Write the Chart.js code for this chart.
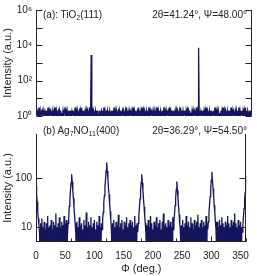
<!DOCTYPE html>
<html>
<head>
<meta charset="utf-8">
<script src="https://cdn.jsdelivr.net/npm/chart.js@4"></script>
<style>
  html, body { margin: 0; padding: 0; background: #fff; }
  #wrap { position: relative; width: 257px; height: 276px; overflow: hidden; font-family: "Liberation Sans", Arial, sans-serif; }
  canvas { position: absolute; left: 0; }
  #cTop { top: 0; }
  #cBot { top: 124px; }
  .note { position: absolute; font-size: 10px; line-height: 12px; color: #222; white-space: nowrap; }
  .note sub { font-size: 7px; vertical-align: -2px; line-height: 0; }
</style>
</head>
<body>
<div id="wrap">
  <canvas id="cTop" width="257" height="126"></canvas>
  <canvas id="cBot" width="257" height="152"></canvas>
  <div class="note" style="left:43px; top:9px;">(a): TiO<sub>2</sub>(111)</div>
  <div class="note" style="right:10px; top:9px;">2θ=41.24°, Ψ=48.00°</div>
  <div class="note" style="left:43px; top:125px;">(b) Ag<sub>7</sub>NO<sub>11</sub>(400)</div>
  <div class="note" style="right:10px; top:125px;">2θ=36.29°, Ψ=54.50°</div>
</div>
<script>
// measurement grid, phi in degrees, 1 deg step
const phiStart = 0;
const phiEnd = 360;
const phi = [];
for (let a = phiStart; a <= phiEnd; a++) phi.push(a);

// (a) TiO2(111) intensities (counts)
const tio2 = [
  2,1,2,1.5,1,3,1,2,1,1.5,2,1,2,1,1,2,1.5,1,2,1,
  3,1,2,1,2,1.5,1,2,1,1,2,1,3,1,2,1,1.5,2,1,2,
  1,2,1,1.5,1,2,1,2,3,1,2,1,2,1,1.5,1,2,1,2,1,
  2,1.5,1,2,1,3,1,2,1,2,1,1.5,2,1,2,1,3,1,2,1,
  1.5,1,2,1,2,1,2,1.5,1,3,1,2,2800,1,2,1,2,1.5,1,2,
  1,2,1,2,1,1,2,1,1.5,2,1,2,1,3,1,2,1,1.5,1,2,
  1,2,1,2,1.5,1,2,1,2,1,3,1,2,1,2,1,1.5,2,1,2,
  1,2,1,1,2,1,2,1.5,1,2,1,3,1,2,1,2,1,2,1.5,1,
  2,1,3,1,2,1,2,1,1.5,2,1,3,1,2,1,2,1,3,1,2,
  1,2,1.5,1,2,1,2,1,3,1,2,1,2,1.5,1,2,1,2,1,1,
  2,1,3,1,2,1,2,1,2,1.5,1,2,1,3,1,2,1,2,1,1.5,
  2,1,2,1,3,1,2,1,2,1,1.5,1,2,1,2,1,2,1.5,1,2,
  1,3,1,2,1,2,1,1.5,2,1,2,1,2,1,3,1,2,1,1.5,1,
  2,1,2,1,2,1.5,1,3,1,2,1,7200,1,2,1,2,1.5,1,2,1,
  2,1,2,1,3,1,2,1.5,1,2,1,2,1,2,1,1.5,2,1,3,1,
  2,1,2,1,2,1,1.5,1,2,1,2,1,3,1,2,1,2,1.5,1,2,
  1,2,1,2,1,3,1,2,1,2,1.5,1,2,1,2,1,2,1,3,1,
  2,1,1.5,2,1,2,1,2,1,3,1,2,1,2,1.5,1,2,1,2,1,
  2
];

// (b) Ag7NO11(400) intensities
const agno = [
  70,46,33,21,15,11,8,3,12,2,15,3,10,4,13,2,9,3,12,3,
  17,2,10,4,11,3,14,2,9,3,13,4,11,2,19,3,10,3,12,2,
  16,4,10,3,13,2,11,3,17,4,12,3,14,2,8,12,16,27,37,57,
  80,120,84,55,39,25,18,12,8,3,13,2,10,4,16,3,11,2,12,3,
  9,4,14,2,11,3,20,3,10,2,13,4,11,3,16,2,10,3,12,4,
  14,2,9,3,13,3,11,2,17,4,10,3,12,9,14,20,32,44,68,95,
  145,210,140,98,64,46,30,21,14,9,3,12,2,14,4,10,3,13,2,11,
  3,18,4,10,2,12,3,14,3,9,2,13,4,11,3,16,2,10,3,12,
  4,14,2,11,3,13,3,10,2,17,4,11,3,12,8,12,17,26,38,55,
  82,120,80,57,37,26,17,12,8,3,11,2,14,3,10,4,17,2,12,3,
  9,3,13,2,11,4,16,3,10,2,12,3,14,4,9,2,13,3,19,3,
  11,2,12,4,10,3,14,2,11,3,13,4,10,2,16,9,13,18,28,39,
  59,86,57,40,26,18,12,9,3,11,2,14,4,10,3,12,2,17,3,11,
  4,13,2,10,3,16,3,12,2,9,4,14,3,11,2,13,3,18,4,10,
  2,12,3,14,3,10,2,13,4,11,3,17,2,12,9,13,20,29,42,63,
  92,135,90,62,43,28,20,13,9,3,13,2,10,4,14,3,11,2,16,3,
  12,4,10,2,13,3,11,3,17,2,12,4,10,3,14,2,11,3,13,4,
  19,2,12,3,10,3,14,2,11,4,13,3,10,8,11,16,24,35,51,75,
  110
];

// ticks
const topYTicks = [1, 10, 100, 1e3, 1e4, 1e5, 1e6];
const topYLabels = ['10⁰', '', '10²', '', '10⁴', '', '10⁶'];
const botYTicks = [10, 100];
const botYLabels = ['10', '100'];
const xTicks = [0, 50, 100, 150, 200, 250, 300, 350];
const xMinorStep = 10;

const lineColor = '#15155f';
const axisColor = '#222';

Chart.defaults.font.family = '"Liberation Sans", Arial, sans-serif';
Chart.defaults.font.size = 10;
Chart.defaults.color = '#222';

// axis frame with inward ticks
const framePlugin = {
  id: 'frame',
  afterDatasetsDraw(chart, args, opts) {
    const { ctx, chartArea: a, scales } = chart;
    ctx.save();
    ctx.strokeStyle = axisColor;
    ctx.lineWidth = 1;
    ctx.beginPath();
    const L = Math.round(a.left) + 0.5;
    const R = Math.round(a.right) - 0.5;
    const B = Math.round(a.bottom) - 0.5;
    ctx.moveTo(L, a.top); ctx.lineTo(L, a.bottom);
    ctx.moveTo(R, a.top); ctx.lineTo(R, a.bottom);
    if (opts.bottomLine) { ctx.moveTo(a.left, B); ctx.lineTo(a.right, B); }
    opts.yTicks.forEach(v => {
      const y = Math.round(scales.y.getPixelForValue(v)) + 0.5;
      ctx.moveTo(L, y); ctx.lineTo(L + 6, y);
      ctx.moveTo(R, y); ctx.lineTo(R - 6, y);
    });
    if (opts.xMinor) {
      for (let v = phiStart; v <= phiEnd; v += xMinorStep) {
        const x = Math.round(scales.x.getPixelForValue(v)) + 0.5;
        const len = v % 50 === 0 ? 5 : 3;
        ctx.moveTo(x, B); ctx.lineTo(x, B - len);
      }
    }
    ctx.stroke();
    ctx.restore();
  }
};

function yAxis(min, max, ticks, labels) {
  return {
    type: 'logarithmic',
    min: min,
    max: max,
    grid: { display: false, drawTicks: false },
    border: { display: false },
    afterBuildTicks: s => { s.ticks = ticks.map(v => ({ value: v })); },
    afterFit: s => { s.width = 36; },
    ticks: {
      autoSkip: false,
      padding: 4,
      color: '#222',
      font: { size: 10 },
      callback: (v) => { const i = ticks.indexOf(v); return i >= 0 ? labels[i] : ''; }
    },
    title: { display: true, text: 'Intensity (a.u.)', font: { size: 11 }, color: '#222', padding: { top: 1, bottom: 0 } }
  };
}

new Chart(document.getElementById('cTop'), {
  type: 'line',
  data: {
    labels: phi,
    datasets: [{ data: tio2, borderColor: lineColor, borderWidth: 1.3, pointRadius: 0, tension: 0 }]
  },
  options: {
    responsive: false,
    animation: false,
    devicePixelRatio: 1,
    layout: { padding: { top: 6, right: 5, bottom: 6, left: 0 } },
    plugins: { legend: { display: false }, tooltip: { enabled: false },
      frame: { yTicks: topYTicks, bottomLine: false, xMinor: false } },
    scales: {
      x: { type: 'linear', min: phiStart, max: phiEnd, display: false },
      y: yAxis(1, 1e6, topYTicks, topYLabels)
    }
  },
  plugins: [framePlugin]
});

new Chart(document.getElementById('cBot'), {
  type: 'line',
  data: {
    labels: phi,
    datasets: [{ data: agno, borderColor: lineColor, borderWidth: 1.3, pointRadius: 0, tension: 0 }]
  },
  options: {
    responsive: false,
    animation: false,
    devicePixelRatio: 1,
    layout: { padding: { top: 6, right: 5, bottom: 0, left: 0 } },
    plugins: { legend: { display: false }, tooltip: { enabled: false },
      frame: { yTicks: botYTicks, bottomLine: true, xMinor: true } },
    scales: {
      x: {
        type: 'linear', min: phiStart, max: phiEnd,
        grid: { display: false, drawTicks: false },
        border: { display: false },
        afterBuildTicks: s => { s.ticks = xTicks.map(v => ({ value: v })); },
        afterFit: s => { s.height = 34; },
        ticks: { autoSkip: false, maxRotation: 0, padding: 8, color: '#222', font: { size: 10 } },
        title: { display: true, text: 'Φ (deg.)', font: { size: 11 }, color: '#222', padding: { top: 0, bottom: 0 } }
      },
      y: yAxis(5, 800, botYTicks, botYLabels)
    }
  },
  plugins: [framePlugin]
});
</script>
</body>
</html>
